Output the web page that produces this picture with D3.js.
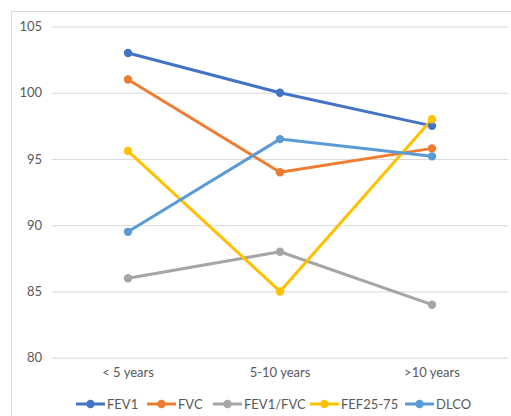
<!DOCTYPE html>
<html>
<head>
<meta charset="utf-8">
<script src="https://cdn.jsdelivr.net/npm/d3@7"></script>
<style>
  html, body { margin: 0; padding: 0; background: #fff; }
  svg { display: block; }
  text { font-family: Lato, "Open Sans", sans-serif; fill: #595959; }
</style>
</head>
<body>
<div id="chart"></div>
<script>
const categories = ["< 5 years", "5-10 years", ">10 years"];
const seriesNames = ["FEV1", "FVC", "FEV1/FVC", "FEF25-75", "DLCO"];
const fev1 = [103, 100, 97.5];
const fvc = [101, 94, 95.8];
const fev1Fvc = [86, 88, 84];
const fef2575 = [95.6, 85, 98];
const dlco = [89.5, 96.5, 95.2];
const yTicks = [80, 85, 90, 95, 100, 105];
const colors = ["#4472C4", "#ED7D31", "#A5A5A5", "#FFC000", "#5B9BD5"];

const series = seriesNames.map((name, i) => ({
  name,
  values: [fev1, fvc, fev1Fvc, fef2575, dlco][i],
  color: colors[i]
}));

const W = 511, H = 416;
const svg = d3.select("#chart").append("svg").attr("width", W).attr("height", H);

// chart area frame
svg.append("rect")
  .attr("x", 11.5).attr("y", 11.5)
  .attr("width", W + 10).attr("height", H + 10)
  .attr("fill", "none").attr("stroke", "#D9D9D9").attr("stroke-width", 1);

const x = d3.scaleBand().domain(categories).range([52, 508]);
const y = d3.scaleLinear().domain([80, 105]).range([357.7, 26.5]);

// horizontal gridlines
const yAxis = d3.axisLeft(y).tickValues(yTicks).tickSize(-(508 - 52)).tickPadding(10);
const gy = svg.append("g").attr("transform", "translate(52,0)").call(yAxis);
gy.select(".domain").remove();
gy.selectAll(".tick line").attr("stroke", "#D9D9D9").attr("stroke-width", 1);
gy.selectAll(".tick text").attr("font-size", 13).attr("fill", "#595959")
  .style("font-family", "Lato, 'Open Sans', sans-serif");

// category axis labels
const xAxis = d3.axisBottom(x).tickSize(0).tickPadding(10);
const gx = svg.append("g").attr("transform", "translate(0,357.7)").call(xAxis);
gx.select(".domain").remove();
gx.selectAll(".tick text").attr("font-size", 13).attr("fill", "#595959")
  .style("font-family", "Lato, 'Open Sans', sans-serif");

const cx = c => x(c) + x.bandwidth() / 2;
const line = d3.line().x((d, i) => cx(categories[i])).y(d => y(d));

// lines first, then markers on top
svg.append("g").selectAll("path").data(series).join("path")
  .attr("d", s => line(s.values))
  .attr("fill", "none")
  .attr("stroke", s => s.color)
  .attr("stroke-width", 3)
  .attr("stroke-linejoin", "round")
  .attr("stroke-linecap", "round");

svg.append("g").selectAll("g").data(series).join("g")
  .attr("fill", s => s.color)
  .selectAll("circle").data(s => s.values).join("circle")
  .attr("cx", (d, i) => cx(categories[i]))
  .attr("cy", d => y(d))
  .attr("r", 4.2);

// legend
const legendX = [76, 147, 213, 310, 405];
const legendY = 404;
const lg = svg.append("g").selectAll("g").data(series).join("g")
  .attr("transform", (s, i) => `translate(${legendX[i]},${legendY})`);
lg.append("line").attr("x1", 0).attr("x2", 29).attr("y1", 0).attr("y2", 0)
  .attr("stroke", s => s.color).attr("stroke-width", 3);
lg.append("circle").attr("cx", 14.5).attr("cy", 0).attr("r", 4.2).attr("fill", s => s.color);
lg.append("text").attr("x", 31).attr("y", 0).attr("dy", "0.35em")
  .attr("font-size", 13).text(s => s.name);
</script>
</body>
</html>
